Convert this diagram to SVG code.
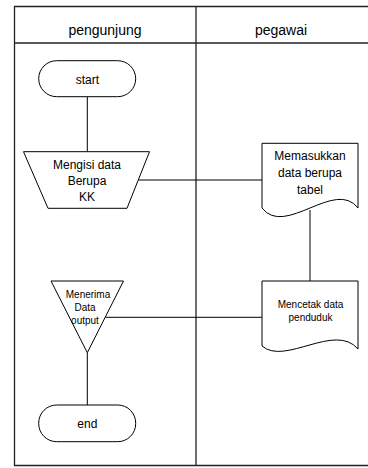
<svg xmlns="http://www.w3.org/2000/svg" width="368" height="468" viewBox="0 0 368 468">
<style>
.s{fill:#fff;stroke:#000;stroke-width:1}
.l{fill:none;stroke:#000;stroke-width:1}
.f{fill:none;stroke:#222;stroke-width:1.3}
text{font-family:"Liberation Sans",Arial,sans-serif;fill:#000;text-anchor:middle;dominant-baseline:central}
.h{font-size:14px}
.m{font-size:12px}
.sm{font-size:10px}
</style>
<rect width="368" height="468" fill="#fff"/>
<g id="frame">
<path class="f" d="M368,6.5 H14.5 V465.5 H368 M14.5,43 H368 M196,6.5 V465.5"/>
<text class="h" x="105" y="30">pengunjung</text>
<text class="h" x="281" y="30">pegawai</text>
</g>
<g id="connectors">
<path class="l" d="M87.3,96.7 V151.7"/>
<path class="l" d="M138.5,180 H262"/>
<path class="l" d="M310,210 V281"/>
<path class="l" d="M105.5,317.3 H262"/>
<path class="l" d="M87.3,352.7 V405"/>
</g>
<g id="start">
<rect class="s" x="38.7" y="60.7" width="97" height="36" rx="18" ry="18"/>
<text class="m" x="87.3" y="79.5">start</text>
</g>
<g id="mengisi">
<path class="s" d="M23.5,151.7 H149.5 L127,208.3 H48 Z"/>
<text class="m" x="87" y="164.5">Mengisi data</text>
<text class="m" x="87" y="181">Berupa</text>
<text class="m" x="87" y="197">KK</text>
</g>
<g id="memasukkan">
<path class="s" d="M262,143.3 H358 V208 C335,178 285,238 262,208 Z"/>
<text class="m" x="310" y="156">Memasukkan</text>
<text class="m" x="310" y="173">data berupa</text>
<text class="m" x="310" y="190">tabel</text>
</g>
<g id="mencetak">
<path class="s" d="M262,281 H358 V349 C335,322 285,366 262,346 Z"/>
<text class="sm" x="310.5" y="304.3">Mencetak data</text>
<text class="sm" x="310.5" y="317.3">penduduk</text>
</g>
<g id="menerima">
<path class="s" d="M51,281 H123.5 L87.3,352.7 Z"/>
<text class="sm" x="88" y="294.3">Menerima</text>
<text class="sm" x="85" y="307.3">Data</text>
<text class="sm" x="85" y="320">output</text>
</g>
<g id="end">
<rect class="s" x="38.7" y="405" width="97" height="36.7" rx="18" ry="18"/>
<text class="m" x="87.3" y="424">end</text>
</g>
</svg>
